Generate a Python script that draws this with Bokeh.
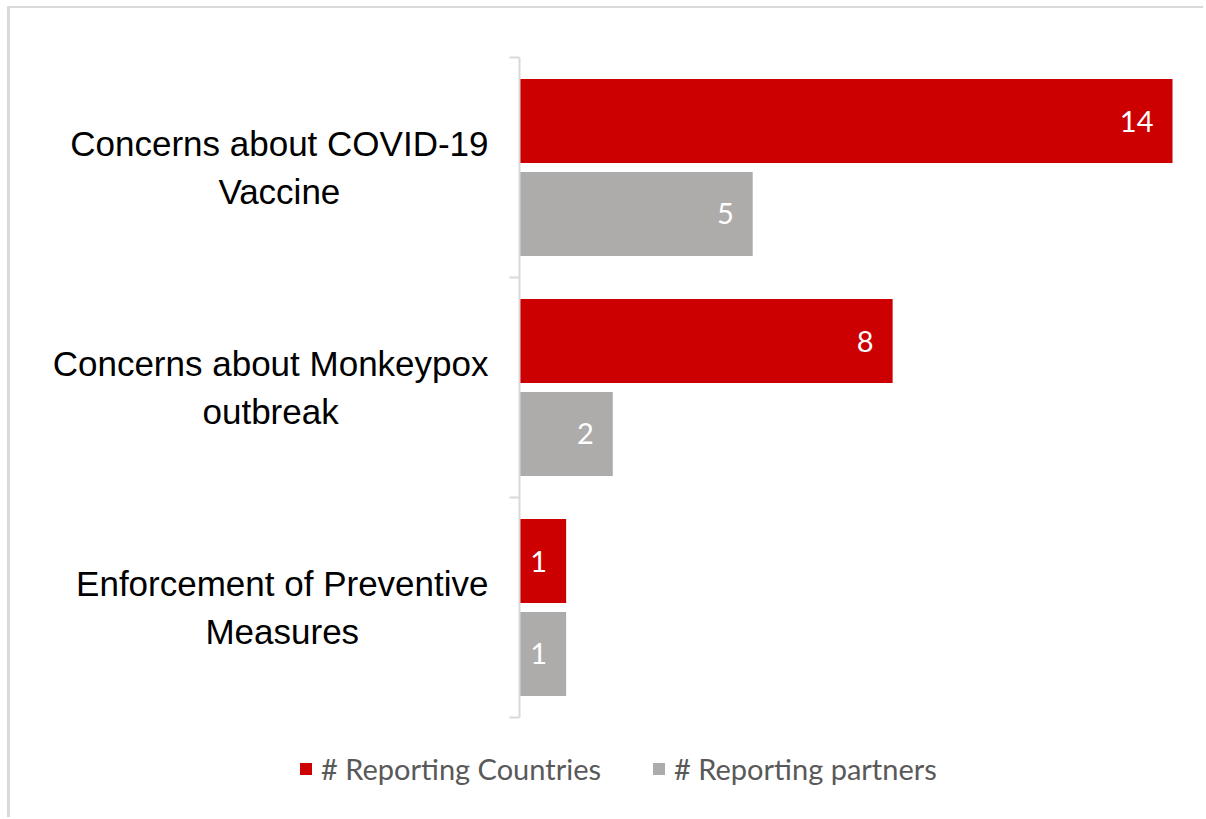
from bokeh.plotting import figure
from bokeh.models import (Range1d, LinearAxis, FixedTicker, Legend, LegendItem,
                          ColumnDataSource)
from bokeh.transform import dodge
from bokeh.core.properties import value
from bokeh.embed import file_html
from bokeh.resources import INLINE

# ---- data ----
categories = [
    "Concerns about COVID-19\nVaccine",
    "Concerns about Monkeypox\noutbreak",
    "Enforcement of Preventive\nMeasures",
]
countries = [14, 8, 1]
partners = [5, 2, 1]
series_names = ["# Reporting Countries", "# Reporting partners"]

RED = "#CC0000"
GREY = "#AEABAB"
AXIS = "#D9D9D9"

n = len(categories)
pos = [i + 0.5 for i in range(n)]
src = ColumnDataSource(dict(
    y=pos,
    zero=[0] * n,
    cat=categories,
    countries=countries,
    partners=partners,
    countries_lbl=[str(v) for v in countries],
    partners_lbl=[str(v) for v in partners],
))

# ---- layout (page pixels) ----
OX, OY = 10, 8            # canvas offset inside the bordered box
W, H = 1206 - OX, 819 - OY
PAD_L = 20                 # left side panel (holds the fixed-location axis)
FW, FH = W - PAD_L, H      # frame size
ZERO_X = 519 - OX - PAD_L  # frame px of value 0
PX_PER_UNIT = (1172 - 519) / 14.0
TOP_Y, BOT_Y = 57 - OY, 717 - OY
PX_PER_CAT = (BOT_Y - TOP_Y) / n

x0 = -ZERO_X / PX_PER_UNIT
x1 = x0 + FW / PX_PER_UNIT
y_top = -TOP_Y / PX_PER_CAT
y_bot = n + (FH - BOT_Y) / PX_PER_CAT

p = figure(width=W, height=H, output_backend="svg", toolbar_location=None,
           x_range=Range1d(x0, x1), y_range=Range1d(y_bot, y_top),
           x_axis_location=None, y_axis_location=None,
           min_border_left=PAD_L, min_border_right=0,
           min_border_top=0, min_border_bottom=0,
           outline_line_color=None)
p.grid.visible = False
p.styles = {"border-top": "2px solid #D9D9D9", "border-left": "3px solid #D9D9D9",
            "margin-left": "7px", "margin-top": "6px"}

off = 0.211
bh = 0.382
r1 = p.hbar(y=dodge("y", -off, range=p.y_range), right="countries", left=0,
            height=bh, source=src, fill_color=RED, line_color=None)
r2 = p.hbar(y=dodge("y", off, range=p.y_range), right="partners", left=0,
            height=bh, source=src, fill_color=GREY, line_color=None)

for col, lbl, d in (("countries", "countries_lbl", -off), ("partners", "partners_lbl", off)):
    p.text(x=col, y=dodge("y", d, range=p.y_range), text=lbl, source=src,
           x_offset=-19, text_align="right", text_baseline="middle",
           text_color="white", text_font=value("Lato"), text_font_size="29px")

# category labels: right-anchored block, lines centred
p.text(x="zero", y="y", text="cat", source=src, x_offset=-31,
       anchor="center_right", text_align="center", text_baseline="middle",
       text_color="#000000", text_font=value("Liberation Sans"),
       text_font_size="35px", text_line_height=1.22)

ticks = list(range(n + 1))
tick_axis = LinearAxis(ticker=FixedTicker(ticks=ticks),
                       fixed_location=0, bounds=(0, n),
                       major_label_overrides={t: "" for t in ticks},
                       major_label_standoff=0,
                       major_tick_out=10, major_tick_in=0,
                       minor_tick_line_color=None,
                       axis_line_color=AXIS, axis_line_width=2,
                       major_tick_line_color=AXIS, major_tick_line_width=2)
p.add_layout(tick_axis, "left")

legend = Legend(items=[LegendItem(label=series_names[0], renderers=[r1]),
                       LegendItem(label=series_names[1], renderers=[r2])],
                orientation="horizontal", location=(298 - OX - PAD_L, 819 - 786),
                glyph_width=15, glyph_height=15, label_standoff=8, spacing=50,
                label_text_font="Lato", label_text_font_size="29px",
                label_text_color="#595959", border_line_color=None,
                background_fill_alpha=0, padding=0, margin=0)
p.add_layout(legend, "center")

open("out.html", "w").write(file_html(p, INLINE))
